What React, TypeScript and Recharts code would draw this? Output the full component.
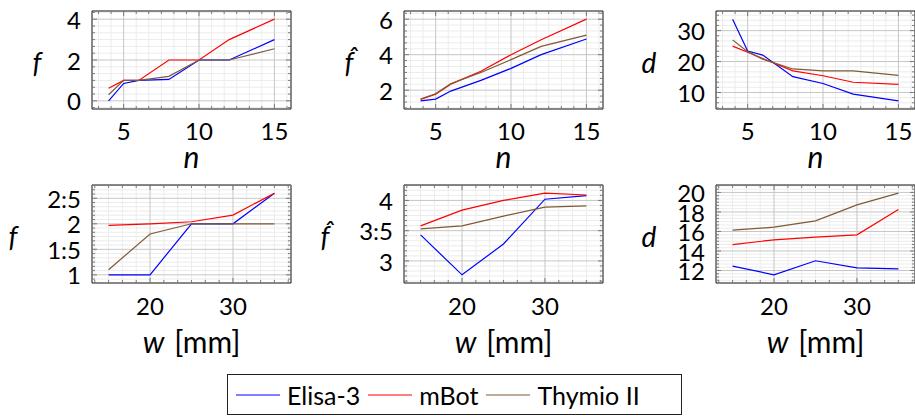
import React from "react";
import { LineChart, Line, XAxis, YAxis, CartesianGrid, ReferenceArea } from "recharts";

// x positions
const nValues = [4, 5, 6, 8, 10, 12, 15];
const wValues = [15, 20, 25, 30, 35];

const seriesNames = ["Elisa-3", "mBot", "Thymio II"];
const seriesColors = ["#0000ff", "#ff0000", "#7f5a36"];

// top row, against n
const fByNElisa = [0, 0.85, 1, 1.05, 2, 2, 3];
const fByNMbot = [0.62, 1, 1, 2, 2, 3, 4];
const fByNThymio = [0.3, 1, 1, 1.2, 2, 2, 2.55];

const fHatByNElisa = [1.4, 1.5, 1.95, 2.55, 3.23, 4.0, 4.88];
const fHatByNMbot = [1.48, 1.78, 2.34, 3.07, 4.0, 4.84, 6.0];
const fHatByNThymio = [1.5, 1.8, 2.36, 3.0, 3.72, 4.47, 5.1];

const dByNElisa = [33.7, 23.4, 22.1, 15.1, 12.9, 9.45, 7.3];
const dByNMbot = [25.0, 23.0, 21.0, 17.0, 15.4, 13.3, 12.6];
const dByNThymio = [27.0, 23.2, 20.8, 17.6, 17.0, 17.0, 15.5];

// bottom row, against w
const fByWElisa = [1, 1, 2, 2, 2.6];
const fByWMbot = [1.97, 2.0, 2.04, 2.17, 2.6];
const fByWThymio = [1.1, 1.8, 2, 2, 2];

const fHatByWElisa = [3.43, 2.77, 3.28, 4.02, 4.08];
const fHatByWMbot = [3.58, 3.84, 4.0, 4.12, 4.09];
const fHatByWThymio = [3.53, 3.58, 3.74, 3.89, 3.91];

const dByWElisa = [12.44, 11.56, 13.0, 12.27, 12.17];
const dByWMbot = [14.66, 15.14, 15.41, 15.65, 18.25];
const dByWThymio = [16.13, 16.44, 17.09, 18.72, 19.92];

// ticks
const nTicks = [5, 10, 15];
const wTicks = [20, 30];
const fNTicks = [0, 2, 4];
const fHatNTicks = [2, 4, 6];
const dNTicks = [10, 20, 30];
const fWTicks = [1, 1.5, 2, 2.5];
const fHatWTicks = [3, 3.5, 4];
const dWTicks = [12, 14, 16, 18, 20];

const FONT = "Lato, 'DejaVu Sans', sans-serif";
const ML = 92; // room left of the plot, inside each chart
const MT = 11;
const PW = 199;
const PH = 98;
const TICK = "#7a7a7a";

// 5 minor ticks between majors, like pgfplots
function minorValues([lo, hi]: [number, number], base: number, step: number) {
  const sub = step / 6;
  const out: number[] = [];
  const k0 = Math.ceil((lo - base) / sub - 1e-9);
  const k1 = Math.floor((hi - base) / sub + 1e-9);
  for (let k = k0; k <= k1; k++) if (k % 6 !== 0) out.push(base + k * sub);
  return out;
}

const isIn = (v: number, list: number[]) => list.some((m) => Math.abs(m - v) < 1e-9);
const plain = (v: number) => String(v).replace(".", ":");

type PanelProps = {
  left: number;
  top: number;
  height: number;
  xs: number[];
  series: number[][];
  xDomain: [number, number];
  yDomain: [number, number];
  xTicks: number[];
  yTicks: number[];
  xLabel: React.ReactNode;
  xLabelDy: number;
  xTickDy: number;
  yLabel: string;
  yLabelDx: number;
};

function Panel(p: PanelProps) {
  const data = p.xs.map((x, i) => ({ x, s0: p.series[0][i], s1: p.series[1][i], s2: p.series[2][i] }));
  const xMinor = minorValues(p.xDomain, p.xTicks[0], p.xTicks[1] - p.xTicks[0]);
  const yMinor = minorValues(p.yDomain, p.yTicks[0], p.yTicks[1] - p.yTicks[0]);
  const bottom = MT + PH;
  const right = ML + PW;

  const xTick = (t: any) => {
    const v = t.payload.value;
    const major = isIn(v, p.xTicks);
    const len = major ? 5 : 3;
    return (
      <g>
        <line x1={t.x} x2={t.x} y1={bottom} y2={bottom - len} stroke={TICK} />
        <line x1={t.x} x2={t.x} y1={MT} y2={MT + len} stroke={TICK} />
        {major && (
          <text x={t.x} y={bottom + p.xTickDy} textAnchor="middle" fontFamily={FONT} fontSize={24} fill="#000">
            {plain(v)}
          </text>
        )}
      </g>
    );
  };

  const yTick = (t: any) => {
    const v = t.payload.value;
    const major = isIn(v, p.yTicks);
    const len = major ? 5 : 3;
    return (
      <g>
        <line x1={ML} x2={ML + len} y1={t.y} y2={t.y} stroke={TICK} />
        <line x1={right} x2={right - len} y1={t.y} y2={t.y} stroke={TICK} />
        {major && (
          <text x={ML - 11} y={t.y} dy="0.4em" textAnchor="end" fontFamily={FONT} fontSize={24} fill="#000">
            {plain(v)}
          </text>
        )}
      </g>
    );
  };

  return (
    <div style={{ position: "absolute", left: p.left - ML, top: p.top - MT }}>
      <LineChart
        width={ML + PW + 2}
        height={p.height}
        data={data}
        margin={{ top: MT, right: 2, bottom: p.height - MT - PH - 1, left: ML - 1 }}
      >
        <CartesianGrid stroke="#ececec" verticalValues={xMinor} horizontalValues={yMinor} />
        <CartesianGrid stroke="#c6c6c6" verticalValues={p.xTicks} horizontalValues={p.yTicks} />
        <XAxis
          type="number"
          dataKey="x"
          domain={p.xDomain}
          ticks={[...p.xTicks, ...xMinor]}
          interval={0}
          height={1}
          axisLine={false}
          tickLine={false}
          allowDataOverflow
          tick={xTick}
          label={() => (
            <text x={ML + PW / 2} y={bottom + p.xLabelDy} textAnchor="middle" fontFamily={FONT} fontSize={30} fill="#000">
              {p.xLabel}
            </text>
          )}
        />
        <YAxis
          type="number"
          domain={p.yDomain}
          ticks={[...p.yTicks, ...yMinor]}
          interval={0}
          width={1}
          axisLine={false}
          tickLine={false}
          allowDataOverflow
          tick={yTick}
          label={() => (
            <text
              x={ML + p.yLabelDx}
              y={MT + PH / 2 + 2}
              dominantBaseline="central"
              textAnchor="middle"
              fontFamily={FONT}
              fontStyle="italic"
              fontSize={28}
              fill="#000"
            >
              {p.yLabel}
            </text>
          )}
        />
        {seriesNames.map((name, k) => (
          <Line
            key={name}
            name={name}
            dataKey={"s" + k}
            stroke={seriesColors[k]}
            strokeWidth={1.2}
            dot={false}
            isAnimationActive={false}
          />
        ))}
        <ReferenceArea
          x1={p.xDomain[0]}
          x2={p.xDomain[1]}
          y1={p.yDomain[0]}
          y2={p.yDomain[1]}
          fill="none"
          stroke="#111"
          strokeWidth={1}
        />
      </LineChart>
    </div>
  );
}

const nLabel = <tspan fontStyle="italic">n</tspan>;
const wLabel = (
  <>
    <tspan fontStyle="italic">w</tspan>
    <tspan dx={10}>[mm]</tspan>
  </>
);

const ROW1 = 11;
const ROW2 = 185;
const COLS = [92, 404, 715.5];

export default function App() {
  const top = { xs: nValues, xTicks: nTicks, xDomain: [2.9, 16.1] as [number, number], height: 175, xLabel: nLabel, xLabelDy: 59, xTickDy: 31 };
  const bot = { xs: wValues, xTicks: wTicks, xDomain: [13, 37] as [number, number], height: 189, xLabel: wLabel, xLabelDy: 70, xTickDy: 32 };
  return (
    <div
      style={{
        position: "absolute",
        left: 0,
        top: 0,
        width: 915,
        height: 417,
        overflow: "hidden",
        background: "#fff",
        fontFamily: FONT,
      }}
    >
      <Panel {...top} left={COLS[0]} top={ROW1} series={[fByNElisa, fByNMbot, fByNThymio]} yDomain={[-0.4, 4.4]} yTicks={fNTicks} yLabel="f" yLabelDx={-55} />
      <Panel {...top} left={COLS[1]} top={ROW1} series={[fHatByNElisa, fHatByNMbot, fHatByNThymio]} yDomain={[0.94, 6.46]} yTicks={fHatNTicks} yLabel={"f\u0302"} yLabelDx={-55} />
      <Panel {...top} left={COLS[2]} top={ROW1} series={[dByNElisa, dByNMbot, dByNThymio]} yDomain={[4.66, 36.34]} yTicks={dNTicks} yLabel="d" yLabelDx={-67} />
      <Panel {...bot} left={COLS[0]} top={ROW2} series={[fByWElisa, fByWMbot, fByWThymio]} yDomain={[0.84, 2.76]} yTicks={fWTicks} yLabel="f" yLabelDx={-79} />
      <Panel {...bot} left={COLS[1]} top={ROW2} series={[fHatByWElisa, fHatByWMbot, fHatByWThymio]} yDomain={[2.635, 4.255]} yTicks={fHatWTicks} yLabel={"f\u0302"} yLabelDx={-79} />
      <Panel {...bot} left={COLS[2]} top={ROW2} series={[dByWElisa, dByWMbot, dByWThymio]} yDomain={[10.72, 20.76]} yTicks={dWTicks} yLabel="d" yLabelDx={-67} />

      <div
        style={{
          position: "absolute",
          left: 227,
          top: 374,
          width: 455,
          height: 41,
          boxSizing: "border-box",
          border: "1px solid #222",
          display: "flex",
          alignItems: "center",
          paddingLeft: 8,
          fontSize: 25,
          color: "#000",
        }}
      >
        {seriesNames.map((name, k) => (
          <div key={name} style={{ display: "flex", alignItems: "center", marginRight: 8 }}>
            <svg width={44} height={4} style={{ marginRight: 7 }}>
              <line x1={0} x2={44} y1={2} y2={2} stroke={seriesColors[k]} strokeWidth={1.2} />
            </svg>
            <span>{name}</span>
          </div>
        ))}
      </div>
    </div>
  );
}
